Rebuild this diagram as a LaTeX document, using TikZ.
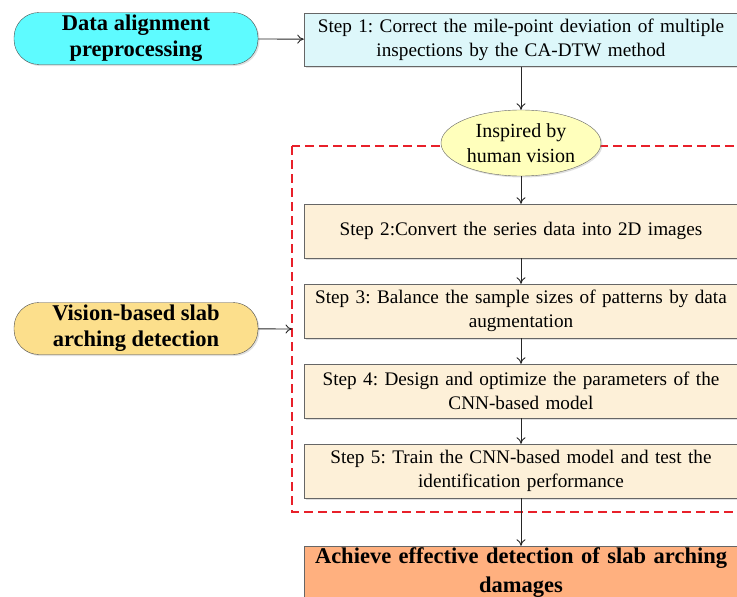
\documentclass[tikz,border=0pt]{standalone}
\usepackage{fontspec}
\setmainfont{Liberation Serif}
\usetikzlibrary{arrows,arrows.meta,shapes.geometric,shadows}

\definecolor{cyanfill}{HTML}{5EFBFF}
\definecolor{stepone}{HTML}{DDF7FA}
\definecolor{stepfill}{HTML}{FDF0D8}
\definecolor{visionfill}{HTML}{FCDF8C}
\definecolor{ideafill}{HTML}{FFFFBC}
\definecolor{resultfill}{HTML}{FFB07F}
\definecolor{dashred}{HTML}{E8202A}

\tikzset{
  shade/.style = {drop shadow={shadow xshift=1.5pt, shadow yshift=-1.5pt,
      opacity=0.25, fill=gray}},
  phase/.style = {draw=black!70, rounded corners=25pt, minimum width=244pt,
      minimum height=52pt, align=center, inner sep=0pt, shade,
      font=\fontsize{22.5}{26}\selectfont\bfseries},
  stepbox/.style = {draw=black!60, fill=stepfill, minimum width=434pt,
      minimum height=54pt, text width=432pt, align=center, inner sep=0pt,
      shade, font=\fontsize{19.2}{24}\selectfont},
  link/.style = {-{To[length=6.5pt,width=9pt]}, black!85, line width=0.9pt}
}

\begin{document}
\frenchspacing
\begin{tikzpicture}[x=1pt, y=-1pt]
\useasboundingbox (0,0) rectangle (737,597);
\clip (0,0) rectangle (737,597);

% dashed frame of the vision-based part
\draw[dashred, line width=1.2pt, dash pattern=on 9pt off 5pt]
    (292,146) rectangle (770,512);
\coordinate (framein) at (292,329);

% left column
\node[phase, fill=cyanfill] (align) at (136,38.5) {Data alignment\\preprocessing};
\node[phase, fill=visionfill] (vision) at (136,328.5) {Vision-based slab\\arching detection};

% right column
\node[stepbox, fill=stepone, minimum height=53pt] (step1) at (521,40)
    {Step 1: Correct the mile-point deviation of multiple\\inspections by the CA-DTW method};
\node[ellipse, draw=black!60, fill=ideafill, minimum width=160pt,
    minimum height=66pt, inner sep=0pt, align=center, shade,
    font=\fontsize{20}{25}\selectfont] (idea) at (521,143)
    {Inspired by\\human vision};
\node[stepbox] (step2) at (521,231) {Step 2:Convert the series data into 2D images};
\node[stepbox] (step3) at (521,311)
    {Step 3: Balance the sample sizes of patterns by data\\augmentation};
\node[stepbox] (step4) at (521,391)
    {Step 4: Design and optimize the parameters of the\\CNN-based model};
\node[stepbox] (step5) at (521,471)
    {Step 5: Train the CNN-based model and test the\\identification performance};
\node[stepbox, fill=resultfill, font=\fontsize{22.5}{29}\selectfont\bfseries]
    (result) at (521,573)
    {Achieve effective detection of slab arching\\damages};

% connectors
\draw[link] (align) -- (step1);
\draw[link] (vision) -- (framein);
\draw[link] (step1) -- (idea);
\draw[link] (idea) -- (step2);
\draw[link] (step2) -- (step3);
\draw[link] (step3) -- (step4);
\draw[link] (step4) -- (step5);
\draw[link] (step5) -- (result);
\end{tikzpicture}
\end{document}
